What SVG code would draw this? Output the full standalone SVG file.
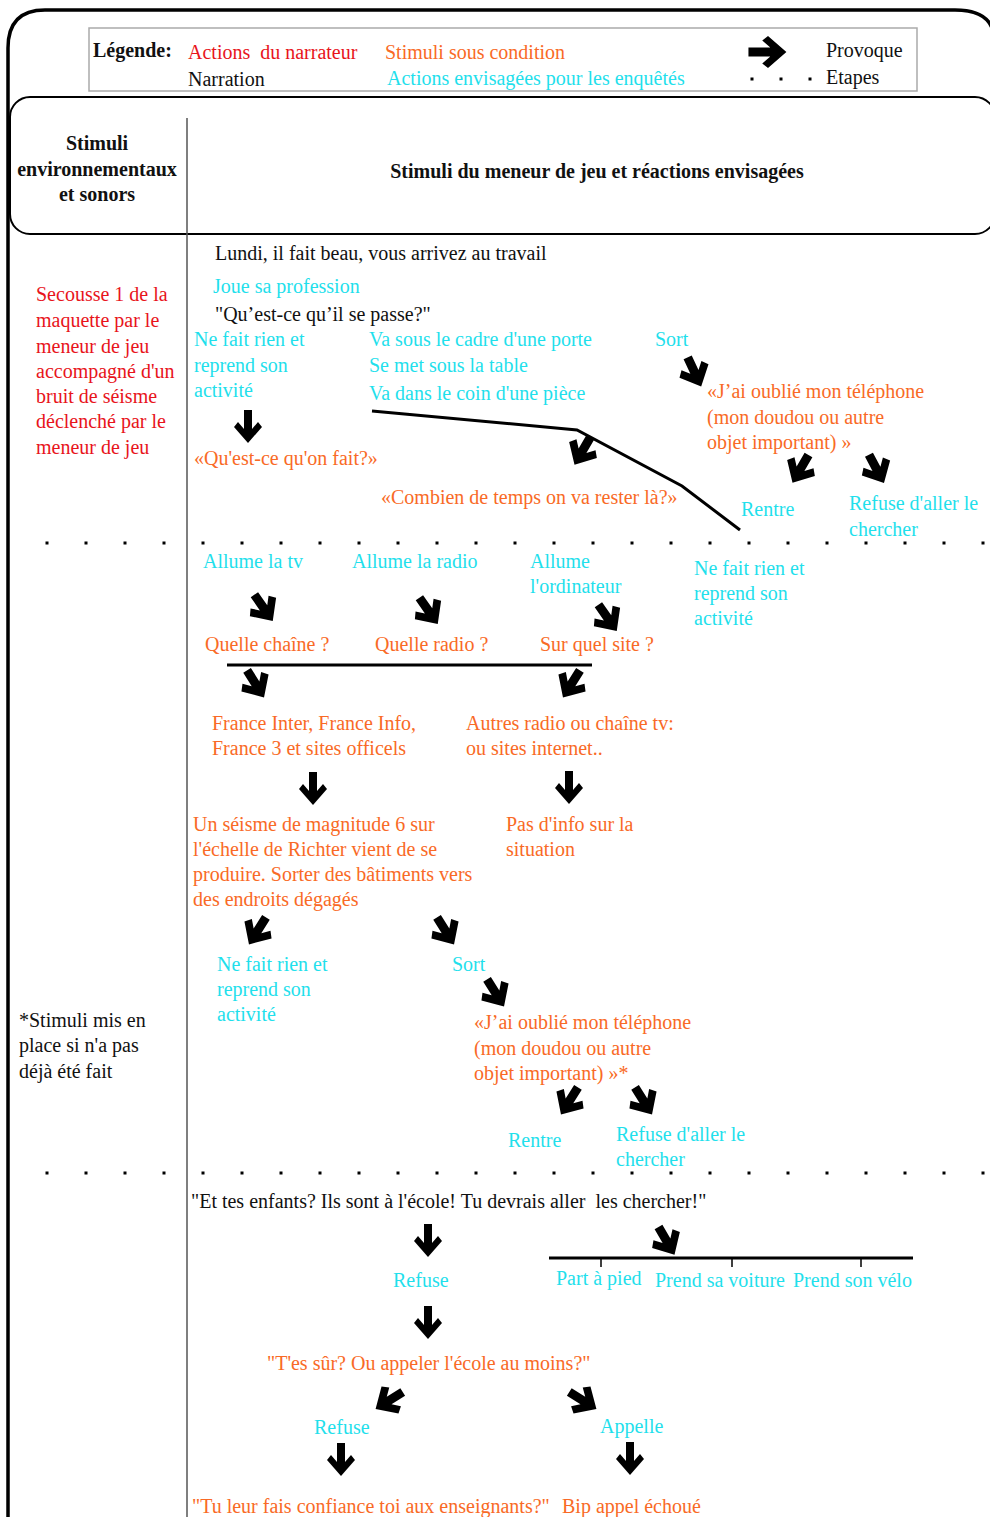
<svg xmlns="http://www.w3.org/2000/svg" xmlns:xlink="http://www.w3.org/1999/xlink" width="990" height="1517" viewBox="0 0 990 1517">
<style>
text{font-family:"Liberation Serif","Times New Roman",serif;font-size:20px;white-space:pre}
.k{fill:#111}
.r{fill:#e8141b}
.o{fill:#f96a26}
.c{fill:#1fe0ec}
.b{font-weight:bold}
.mid{text-anchor:middle}
.ln{fill:none;stroke:#000;stroke-width:3}
.dots{fill:none;stroke:#000;stroke-width:3;stroke-dasharray:3 36}
</style>
<defs>
<path id="a" d="M -4,-17 H 4 V 2 L 10,-5 L 14,0 L 0,16 L -14,0 L -10,-5 L -4,2 Z" fill="#000"/>
<path id="d" d="M -4.5,-15 H 4.5 V 1 L 11,-6 L 16,0 L 0,17 L -16,0 L -11,-6 L -4.5,1 Z" fill="#000"/>
</defs>
<rect width="990" height="1517" fill="#fff"/>
<g id="frame">
<path d="M 8,1517 V 48 Q 8,10 45,10 H 955 Q 985,10 992,28" fill="none" stroke="#000" stroke-width="3.5"/>
<rect x="10" y="97" width="985" height="137" rx="20" fill="none" stroke="#000" stroke-width="2"/>
<line x1="187" y1="118" x2="187" y2="1517" stroke="#555" stroke-width="1.5"/>
</g>
<g id="legend">
<rect x="89" y="28" width="828" height="63" fill="none" stroke="#aaa" stroke-width="1.5"/>
<text x="93" y="57" class="k b">Légende:</text>
<text x="188" y="59" class="r">Actions  du narrateur</text>
<text x="385" y="59" class="o">Stimuli sous condition</text>
<text x="188" y="86" class="k">Narration</text>
<text x="387" y="85" class="c">Actions envisagées pour les enquêtés</text>
<use xlink:href="#a" href="#a" transform="translate(768,52) rotate(-90) scale(1.15)"/>
<line x1="750.5" y1="79" x2="813" y2="79" fill="none" stroke="#000" stroke-width="3" stroke-dasharray="3 26"/>
<text x="826" y="57" class="k">Provoque</text>
<text x="826" y="84" class="k">Etapes</text>
</g>
<g id="header">
<text x="97" y="150" class="k b mid">Stimuli</text>
<text x="97" y="176" class="k b mid">environnementaux</text>
<text x="97" y="201" class="k b mid">et sonors</text>
<text x="597" y="178" class="k b mid">Stimuli du meneur de jeu et réactions envisagées</text>
</g>
<g id="steps">
<line x1="45.5" y1="543" x2="990" y2="543" class="dots"/>
<line x1="45.5" y1="1173" x2="990" y2="1173" class="dots"/>
</g>
<g id="nodes" transform="translate(0,1)">
<g id="left-secousse">
<text x="36" y="300" class="r">Secousse 1 de la</text>
<text x="36" y="326" class="r">maquette par le</text>
<text x="36" y="352" class="r">meneur de jeu</text>
<text x="36" y="377" class="r">accompagné d'un</text>
<text x="36" y="402" class="r">bruit de séisme</text>
<text x="36" y="427" class="r">déclenché par le</text>
<text x="36" y="453" class="r">meneur de jeu</text>
</g>
<g id="left-stimuli">
<text x="19" y="1026" class="k">*Stimuli mis en</text>
<text x="19" y="1051" class="k">place si n'a pas</text>
<text x="19" y="1077" class="k">déjà été fait</text>
</g>
<g id="n-lundi"><text x="215" y="259" class="k">Lundi, il fait beau, vous arrivez au travail</text></g>
<g id="n-joue"><text x="213" y="292" class="c">Joue sa profession</text></g>
<g id="n-quest"><text x="215" y="320" class="k">"Qu’est-ce qu’il se passe?"</text></g>
<g id="n-rien1">
<text x="194" y="345" class="c">Ne fait rien et</text>
<text x="194" y="371" class="c">reprend son</text>
<text x="194" y="396" class="c">activité</text>
</g>
<g id="n-abri">
<text x="369" y="345" class="c">Va sous le cadre d'une porte</text>
<text x="369" y="371" class="c">Se met sous la table</text>
<text x="369" y="399" class="c">Va dans le coin d'une pièce</text>
</g>
<g id="n-sort1"><text x="655" y="345" class="c">Sort</text></g>
<g id="n-oubli1">
<text x="707" y="397" class="o">«J’ai oublié mon téléphone</text>
<text x="707" y="423" class="o">(mon doudou ou autre</text>
<text x="707" y="448" class="o">objet important) »</text>
</g>
<g id="n-quoi"><text x="194" y="464" class="o">«Qu'est-ce qu'on fait?»</text></g>
<g id="n-combien"><text x="381" y="503" class="o">«Combien de temps on va rester là?»</text></g>
<g id="n-rentre1"><text x="741" y="515" class="c">Rentre</text></g>
<g id="n-refuse1">
<text x="849" y="509" class="c">Refuse d'aller le</text>
<text x="849" y="535" class="c">chercher</text>
</g>
<g id="n-tv"><text x="203" y="567" class="c">Allume la tv</text></g>
<g id="n-radio"><text x="352" y="567" class="c">Allume la radio</text></g>
<g id="n-ordi">
<text x="530" y="567" class="c">Allume</text>
<text x="530" y="592" class="c">l'ordinateur</text>
</g>
<g id="n-rien2">
<text x="694" y="574" class="c">Ne fait rien et</text>
<text x="694" y="599" class="c">reprend son</text>
<text x="694" y="624" class="c">activité</text>
</g>
<g id="n-chaine"><text x="205" y="650" class="o">Quelle chaîne ?</text></g>
<g id="n-qradio"><text x="375" y="650" class="o">Quelle radio ?</text></g>
<g id="n-site"><text x="540" y="650" class="o">Sur quel site ?</text></g>
<g id="n-france">
<text x="212" y="729" class="o">France Inter, France Info,</text>
<text x="212" y="754" class="o">France 3 et sites officels</text>
</g>
<g id="n-autres">
<text x="466" y="729" class="o">Autres radio ou chaîne tv:</text>
<text x="466" y="754" class="o">ou sites internet..</text>
</g>
<g id="n-seisme">
<text x="193" y="830" class="o">Un séisme de magnitude 6 sur</text>
<text x="193" y="855" class="o">l'échelle de Richter vient de se</text>
<text x="193" y="880" class="o">produire. Sorter des bâtiments vers</text>
<text x="193" y="905" class="o">des endroits dégagés</text>
</g>
<g id="n-pasinfo">
<text x="506" y="830" class="o">Pas d'info sur la</text>
<text x="506" y="855" class="o">situation</text>
</g>
<g id="n-rien3">
<text x="217" y="970" class="c">Ne fait rien et</text>
<text x="217" y="995" class="c">reprend son</text>
<text x="217" y="1020" class="c">activité</text>
</g>
<g id="n-sort2"><text x="452" y="970" class="c">Sort</text></g>
<g id="n-oubli2">
<text x="474" y="1028" class="o">«J’ai oublié mon téléphone</text>
<text x="474" y="1054" class="o">(mon doudou ou autre</text>
<text x="474" y="1079" class="o">objet important) »*</text>
</g>
<g id="n-rentre2"><text x="508" y="1146" class="c">Rentre</text></g>
<g id="n-refuse2">
<text x="616" y="1140" class="c">Refuse d'aller le</text>
<text x="616" y="1165" class="c">chercher</text>
</g>
<g id="n-enfants"><text x="191" y="1207" class="k">"Et tes enfants? Ils sont à l'école! Tu devrais aller  les chercher!"</text></g>
<g id="n-refuse3"><text x="393" y="1286" class="c">Refuse</text></g>
<g id="n-pied"><text x="556" y="1284" class="c">Part à pied</text></g>
<g id="n-voiture"><text x="655" y="1286" class="c">Prend sa voiture</text></g>
<g id="n-velo"><text x="793" y="1286" class="c">Prend son vélo</text></g>
<g id="n-tessur"><text x="267" y="1369" class="o">"T'es sûr? Ou appeler l'école au moins?"</text></g>
<g id="n-refuse4"><text x="314" y="1433" class="c">Refuse</text></g>
<g id="n-appelle"><text x="600" y="1432" class="c">Appelle</text></g>
<g id="n-confiance"><text x="192" y="1512" class="o">"Tu leur fais confiance toi aux enseignants?"</text></g>
<g id="n-bip"><text x="562" y="1512" class="o">Bip appel échoué</text></g>
</g>
<g id="connectors">
<polyline points="372,411 577,430 682,486 740,530" class="ln"/>
<line x1="227" y1="665" x2="592" y2="665" class="ln"/>
<line x1="549" y1="1258" x2="913" y2="1258" class="ln"/>
<line x1="601" y1="1258" x2="601" y2="1267" stroke="#000" stroke-width="1.5"/>
<line x1="732" y1="1258" x2="732" y2="1267" stroke="#000" stroke-width="1.5"/>
<line x1="861" y1="1258" x2="861" y2="1267" stroke="#000" stroke-width="1.5"/>
<use href="#a" transform="translate(248,427)"/>
<use href="#d" transform="translate(694,371) rotate(-25)"/>
<use href="#d" transform="translate(583,450) rotate(30)"/>
<use href="#d" transform="translate(801,468) rotate(30)"/>
<use href="#d" transform="translate(876,468) rotate(-28)"/>
<use href="#d" transform="translate(263,607) rotate(-35)"/>
<use href="#d" transform="translate(428,610) rotate(-35)"/>
<use href="#d" transform="translate(607,617) rotate(-35)"/>
<use href="#d" transform="translate(255,683) rotate(-32)"/>
<use href="#d" transform="translate(572,683) rotate(32)"/>
<use href="#a" transform="translate(313,789)"/>
<use href="#a" transform="translate(569,788)"/>
<use href="#d" transform="translate(258,930) rotate(32)"/>
<use href="#d" transform="translate(445,930) rotate(-32)"/>
<use href="#d" transform="translate(495,992) rotate(-32)"/>
<use href="#d" transform="translate(570,1100) rotate(32)"/>
<use href="#d" transform="translate(643,1100) rotate(-32)"/>
<use href="#a" transform="translate(428,1241)"/>
<use href="#d" transform="translate(666,1240) rotate(-30)"/>
<use href="#a" transform="translate(428,1323)"/>
<use href="#d" transform="translate(390,1400) rotate(58)"/>
<use href="#d" transform="translate(582,1400) rotate(-58)"/>
<use href="#a" transform="translate(341,1460)"/>
<use href="#a" transform="translate(630,1459)"/>
</g>
</svg>
